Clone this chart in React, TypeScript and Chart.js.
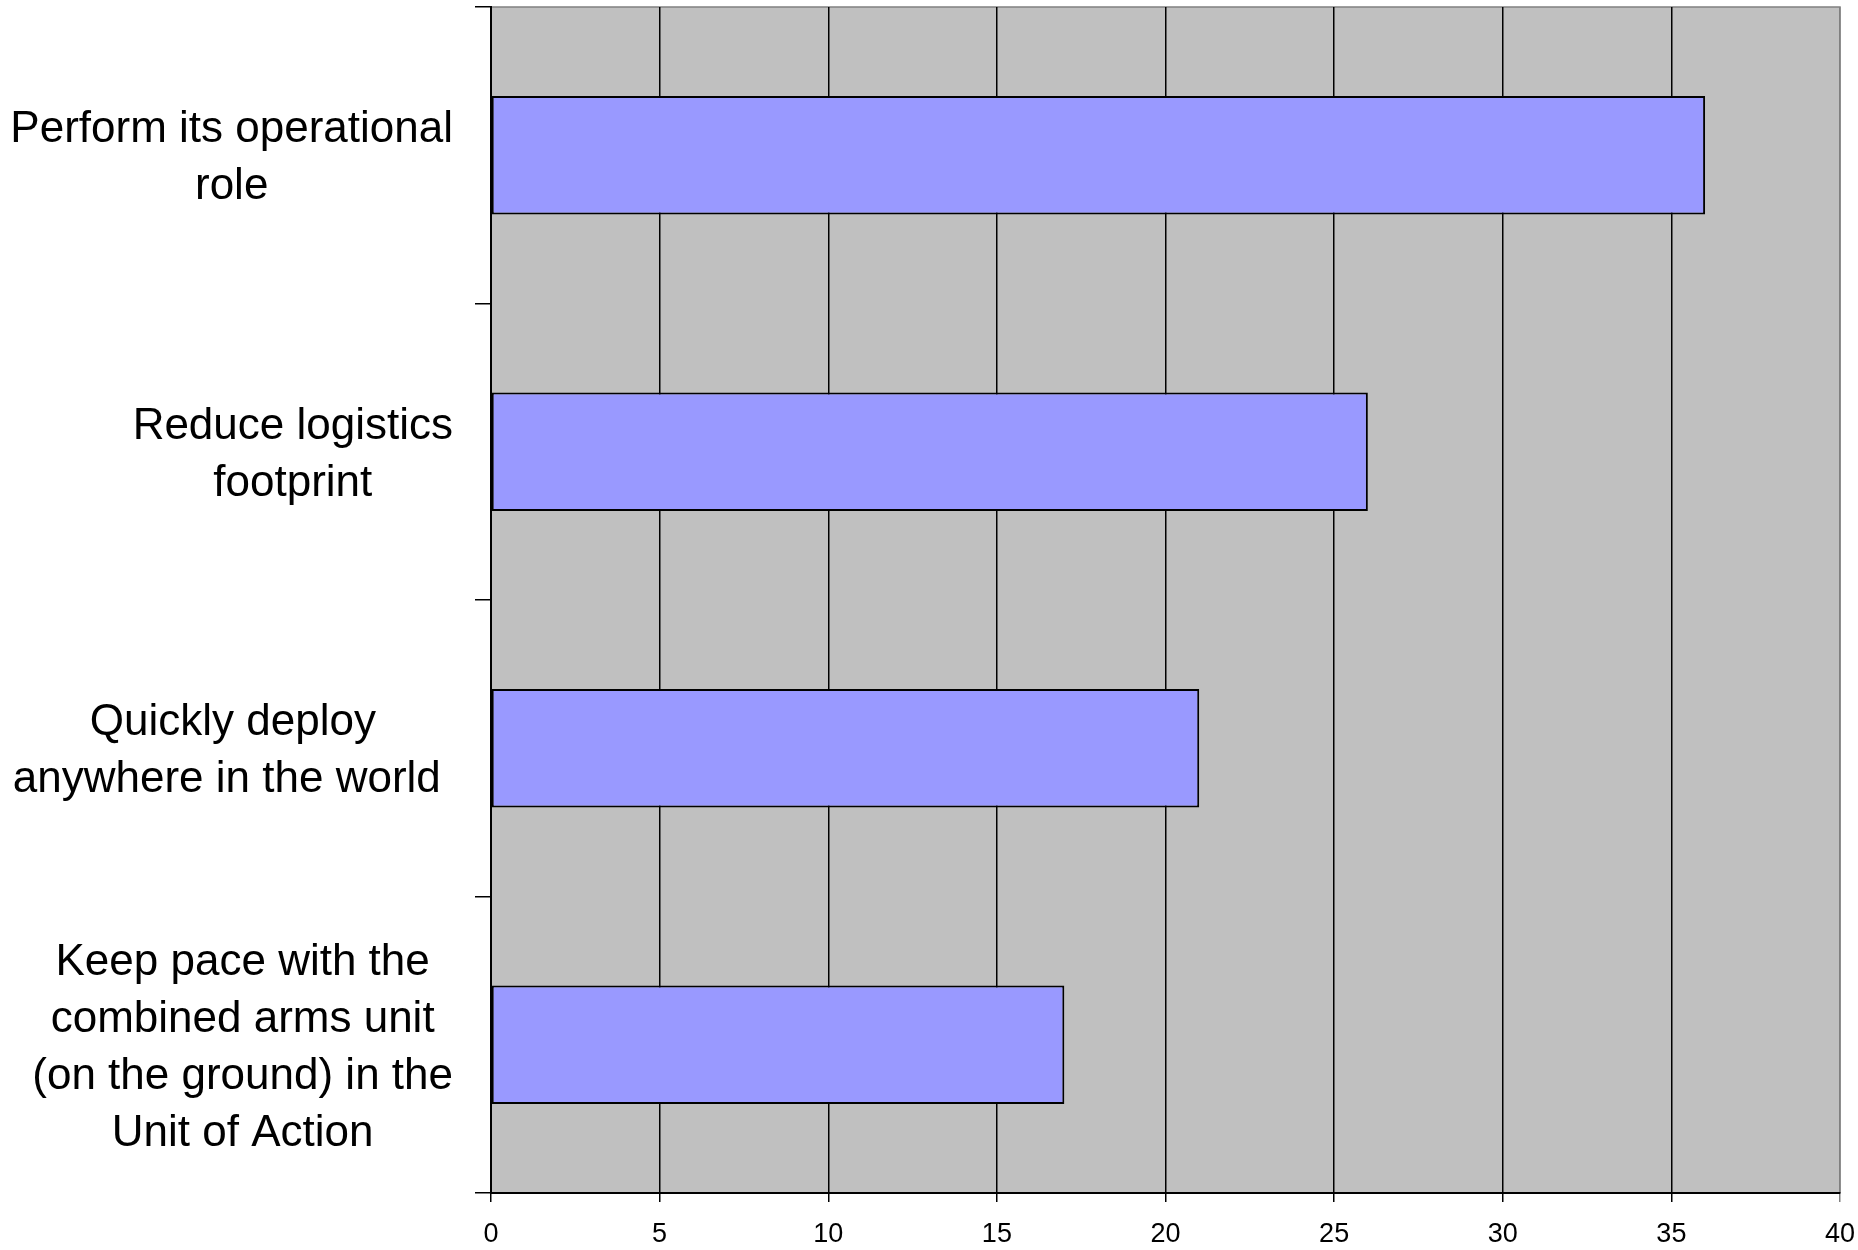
import React, { useEffect, useRef } from "react";
import { Chart, registerables } from "chart.js";

Chart.register(...registerables);

// Category labels, one entry per bar, split into the lines they are shown on
const categories: string[][] = [
  ["Perform its operational", "role"],
  ["Reduce logistics", "footprint"],
  ["Quickly deploy", "anywhere in the world "],
  ["Keep pace with the", "combined arms unit", "(on the ground) in the", "Unit of Action"],
];

// Bar lengths
const values: number[] = [36, 26, 21, 17];

// Value axis ticks
const xTicks: number[] = [0, 5, 10, 15, 20, 25, 30, 35, 40];

const LABEL_FONT = '44px "Liberation Sans", Arial, sans-serif';
const LABEL_LINE_HEIGHT = 57;
const LABEL_RIGHT = 453;

// Grey plot area with a thin frame on the top and right
const plotBackground = {
  id: "plotBackground",
  beforeDraw(chart: Chart) {
    const { ctx, chartArea } = chart;
    const { left, top, right, bottom } = chartArea;
    ctx.save();
    ctx.fillStyle = "#C0C0C0";
    ctx.fillRect(left, top, right - left, bottom - top);
    ctx.strokeStyle = "#808080";
    ctx.lineWidth = 1.5;
    ctx.beginPath();
    ctx.moveTo(left, top);
    ctx.lineTo(right, top);
    ctx.lineTo(right, bottom);
    ctx.stroke();
    ctx.restore();
  },
};

// Multi-line category labels, each block centred on its own widest line
const categoryLabels = {
  id: "categoryLabels",
  afterDraw(chart: Chart) {
    const { ctx } = chart;
    const yScale = chart.scales.y;
    ctx.save();
    ctx.font = LABEL_FONT;
    ctx.fillStyle = "#000000";
    ctx.textAlign = "left";
    ctx.textBaseline = "alphabetic";
    categories.forEach((lines, i) => {
      const cy = yScale.getPixelForValue(i);
      const widest = Math.max(...lines.map((l) => ctx.measureText(l).width));
      const cx = LABEL_RIGHT - widest / 2;
      const n = lines.length;
      lines.forEach((line, j) => {
        const lineCenter = cy + (j - (n - 1) / 2) * LABEL_LINE_HEIGHT;
        // trailing spaces count towards centring but are not drawn
        const w = ctx.measureText(line).width;
        ctx.fillText(line.trimEnd(), cx - w / 2, lineCenter + 15.7);
      });
    });
    ctx.restore();
  },
};

export default function App() {
  const canvasRef = useRef<HTMLCanvasElement | null>(null);

  useEffect(() => {
    document.body.style.margin = "0";
    const canvas = canvasRef.current;
    if (!canvas) return;

    const chart = new Chart(canvas, {
      type: "bar",
      data: {
        labels: categories.map((c) => c.join(" ")),
        datasets: [
          {
            data: values,
            backgroundColor: "#9999FF",
            borderColor: "#000000",
            borderWidth: 2,
            borderSkipped: false,
            barPercentage: 0.4,
            categoryPercentage: 1,
          },
        ],
      },
      options: {
        indexAxis: "y",
        responsive: false,
        animation: false,
        layout: { padding: { top: 7, right: 18, left: 0, bottom: 0 } },
        plugins: {
          legend: { display: false },
          tooltip: { enabled: false },
        },
        scales: {
          x: {
            type: "linear",
            min: xTicks[0],
            max: xTicks[xTicks.length - 1],
            afterBuildTicks: (scale: any) => {
              scale.ticks = xTicks.map((v) => ({ value: v }));
            },
            afterFit: (scale: any) => {
              scale.height = 57;
              scale.paddingLeft = 0;
              scale.paddingRight = 0;
            },
            ticks: {
              font: { family: '"Liberation Sans", Arial, sans-serif', size: 27 },
              color: "#000000",
              padding: 16,
              maxRotation: 0,
            },
            grid: {
              color: (ctx: any) =>
                ctx.tick && ctx.tick.value === xTicks[xTicks.length - 1] ? "#808080" : "#000000",
              lineWidth: 1.5,
              tickLength: 9,
              drawOnChartArea: true,
              drawTicks: true,
            },
            border: { display: true, color: "#000000", width: 2 },
          },
          y: {
            type: "category",
            offset: true,
            afterFit: (scale: any) => {
              scale.width = 491;
              scale.paddingTop = 0;
              scale.paddingBottom = 0;
            },
            ticks: { display: false },
            grid: {
              offset: true,
              color: "#000000",
              lineWidth: 1.5,
              tickLength: 16,
              drawOnChartArea: false,
              drawTicks: true,
            },
            border: { display: true, color: "#000000", width: 2 },
          },
        },
      },
      plugins: [plotBackground, categoryLabels],
    });

    return () => chart.destroy();
  }, []);

  return (
    <div style={{ position: "absolute", left: 0, top: 0, width: 1858, height: 1250, background: "#ffffff" }}>
      <canvas ref={canvasRef} width={1858} height={1250} />
    </div>
  );
}
